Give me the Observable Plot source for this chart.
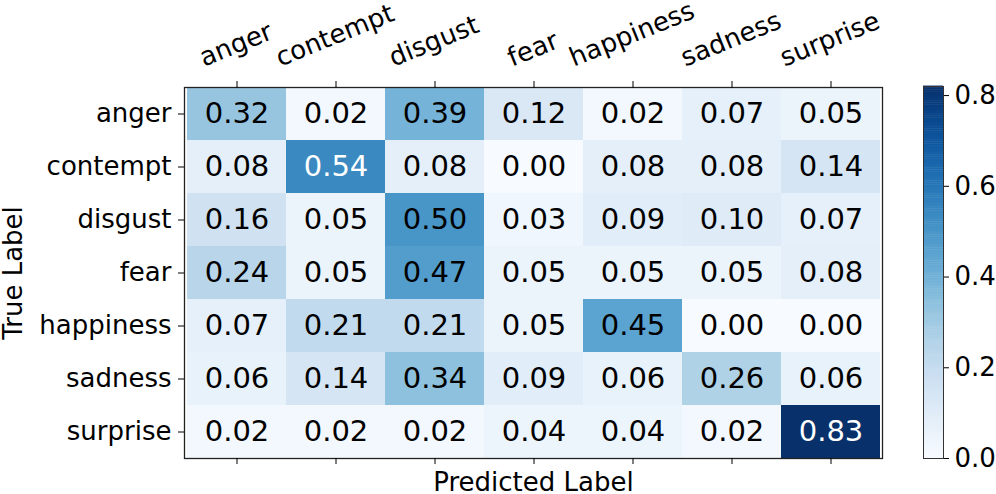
<!DOCTYPE html>
<html>
<head>
<meta charset="utf-8">
<script src="https://cdn.jsdelivr.net/npm/d3@7"></script>
<script src="https://cdn.jsdelivr.net/npm/@observablehq/plot@0.6"></script>
<style>
  html, body { margin: 0; padding: 0; background: #fff; }
  #wrap { position: relative; width: 996px; height: 494px; overflow: hidden; font-family: "DejaVu Sans", sans-serif; color: #000; }
  #wrap svg { position: absolute; top: 0; }
</style>
</head>
<body>
<div id="wrap"></div>
<script>
const labels = ["anger", "contempt", "disgust", "fear", "happiness", "sadness", "surprise"];
const anger     = [0.32, 0.02, 0.39, 0.12, 0.02, 0.07, 0.05];
const contempt  = [0.08, 0.54, 0.08, 0.00, 0.08, 0.08, 0.14];
const disgust   = [0.16, 0.05, 0.50, 0.03, 0.09, 0.10, 0.07];
const fear      = [0.24, 0.05, 0.47, 0.05, 0.05, 0.05, 0.08];
const happiness = [0.07, 0.21, 0.21, 0.05, 0.45, 0.00, 0.00];
const sadness   = [0.06, 0.14, 0.34, 0.09, 0.06, 0.26, 0.06];
const surprise  = [0.02, 0.02, 0.02, 0.04, 0.04, 0.02, 0.83];
const colorbarTicks = [0.0, 0.2, 0.4, 0.6, 0.8];
const vmax = 0.82;

const matrix = [anger, contempt, disgust, fear, happiness, sadness, surprise];
const data = [];
matrix.forEach((row, i) => row.forEach((v, j) => data.push({true: labels[i], pred: labels[j], value: v})));

const FONT = "DejaVu Sans";
const color = {type: "linear", scheme: "blues", domain: [0, vmax]};

// rotated top labels, bottoms of their boxes aligned above the ticks
const ANGLE = 22;
const rad = ANGLE * Math.PI / 180;
const ctx = document.createElement("canvas").getContext("2d");
ctx.font = `26px "${FONT}"`;
const topLabelMarks = labels.map(l => {
  const w = ctx.measureText(l).width;
  const h = 26;
  const half = (w * Math.sin(rad) + h * Math.cos(rad)) / 2;
  return Plot.text([l], {
    x: d => d, frameAnchor: "top", rotate: -ANGLE, textAnchor: "middle", lineAnchor: "middle",
    dx: -1, dy: -(16.5 + half), fontSize: 26, fill: "black"
  });
});

const W = 996, H = 494;
const mainPlot = Plot.plot({
  width: W, height: H,
  marginLeft: 184, marginRight: 114, marginTop: 87, marginBottom: 36,
  style: {fontFamily: FONT, color: "black", background: "transparent"},
  x: {domain: labels, padding: 0},
  y: {domain: labels, padding: 0},
  color,
  marks: [
    Plot.cell(data, {x: "pred", y: "true", fill: "value"}),
    Plot.text(data, {x: "pred", y: "true", text: d => d.value.toFixed(2),
      fill: d => d.value > 0.52 ? "white" : "black", fontSize: 29}),
    Plot.frame({stroke: "#222", strokeWidth: 1.3}),
    Plot.axisX({anchor: "top", tickSize: 7, tickFormat: () => "", label: null}),
    Plot.axisX({anchor: "bottom", tickSize: 6, tickFormat: () => "", label: null}),
    Plot.axisY({anchor: "left", tickSize: 6, tickPadding: 7, fontSize: 26, label: null}),
    ...topLabelMarks,
    Plot.text(["True Label"], {text: d => d, frameAnchor: "left", rotate: -90, dx: -171,
      textAnchor: "middle", lineAnchor: "middle", fontSize: 26, fill: "black"}),
    Plot.text(["Predicted Label"], {text: d => d, frameAnchor: "bottom", dy: 24,
      textAnchor: "middle", lineAnchor: "middle", fontSize: 26, fill: "black"})
  ]
});

// colorbar
const nSteps = 200;
const stops = d3.range(nSteps).map(i => i * vmax / nSteps);
const cbPlot = Plot.plot({
  width: 73, height: H,
  marginLeft: 0, marginRight: 53, marginTop: 86, marginBottom: 36,
  style: {fontFamily: FONT, color: "black", background: "transparent", overflow: "visible"},
  x: {domain: [0, 1], axis: null},
  y: {domain: [0, vmax]},
  color,
  marks: [
    Plot.rect(stops, {x1: 0, x2: 1, y1: d => d, y2: d => d + vmax / nSteps + 0.001, fill: d => d + vmax / nSteps / 2}),
    Plot.frame({stroke: "#333", strokeWidth: 1}),
    Plot.axisY({anchor: "right", ticks: colorbarTicks, tickFormat: d3.format(".1f"), tickSize: 5, tickPadding: 6, fontSize: 26, label: null})
  ]
});

const wrap = document.getElementById("wrap");
mainPlot.style.left = "0px";
cbPlot.style.left = "923px";
wrap.appendChild(mainPlot);
wrap.appendChild(cbPlot);
</script>
</body>
</html>
